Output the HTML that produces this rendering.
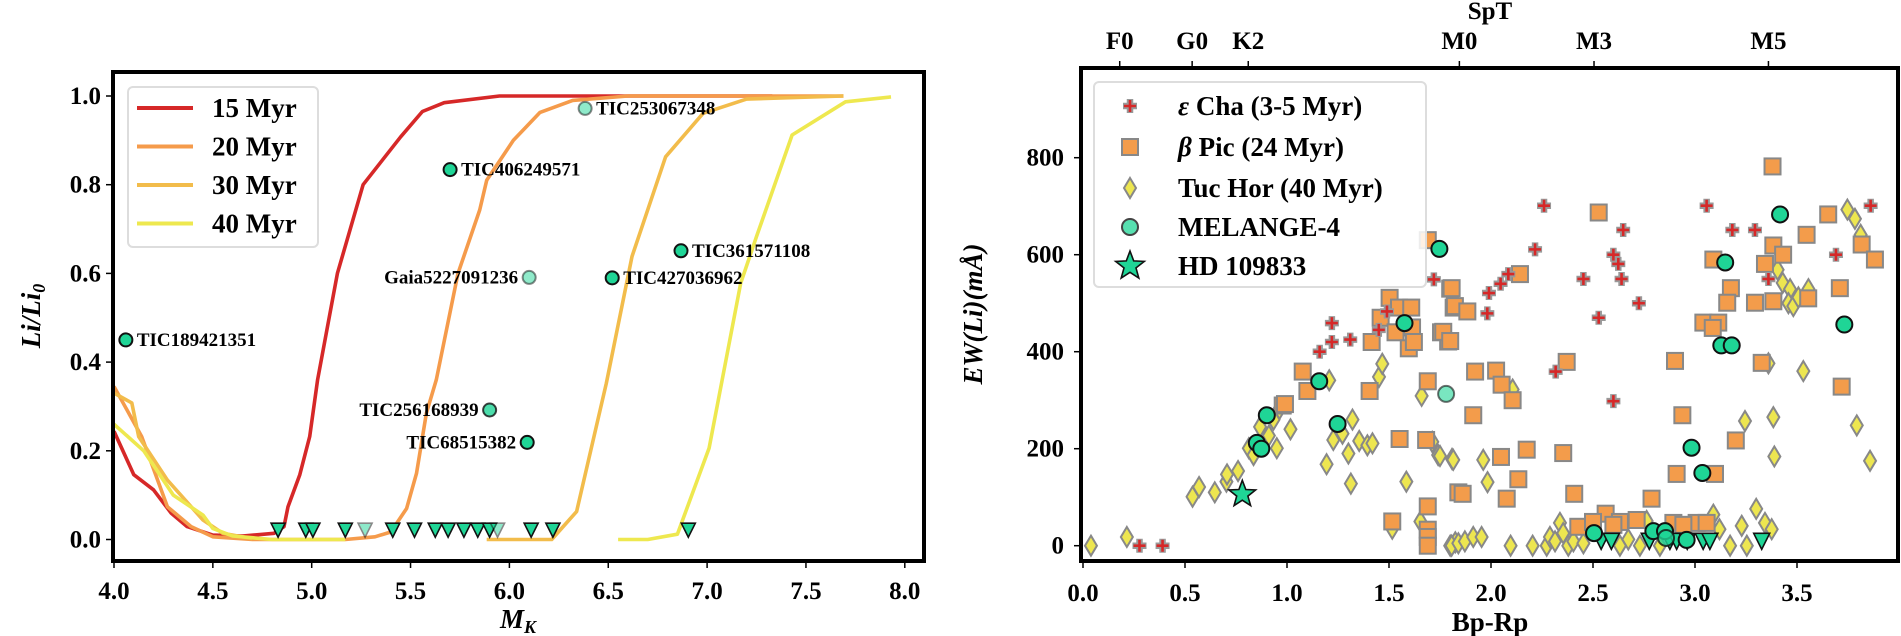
<!DOCTYPE html>
<html><head><meta charset="utf-8">
<style>
html,body{margin:0;padding:0;background:#fff;}
svg{display:block;font-family:"Liberation Serif",serif;font-weight:bold;}
</style></head>
<body>
<svg id="fig" width="1901" height="636" viewBox="0 0 1901 636" xmlns="http://www.w3.org/2000/svg"></svg>
<script>
// ---------- Left panel data ----------
const curve15x=[4.0,4.1,4.2,4.29,4.37,4.5,4.65,4.81,4.86,4.88,4.94,4.99,5.03,5.13,5.26,5.45,5.56,5.67,5.95,7.33];
const curve15y=[0.244,0.146,0.112,0.059,0.029,0.01,0.008,0.014,0.029,0.074,0.146,0.232,0.36,0.6,0.8,0.908,0.965,0.985,1.0,1.0];
const curve20x=[4.0,4.14,4.27,4.39,4.5,4.7,5.17,5.32,5.4,5.48,5.53,5.58,5.63,5.74,5.85,5.885,6.02,6.155,6.32,6.6,7.69];
const curve20y=[0.345,0.232,0.074,0.029,0.006,0.0,0.0,0.006,0.017,0.07,0.149,0.285,0.36,0.6,0.743,0.81,0.90,0.963,0.99,1.0,1.0];
const curve30x=[4.0,4.09,4.125,4.27,4.45,4.55,4.7,null,5.885,6.214,6.34,6.49,6.62,6.79,6.98,7.2,7.69];
const curve30y=[0.33,0.308,0.232,0.134,0.044,0.014,0.002,null,0.0,0.0,0.063,0.352,0.638,0.863,0.961,0.993,1.0];
const curve40x=[4.0,4.15,4.3,4.45,4.5,4.6,4.8,5.17,null,6.55,6.70,6.85,7.01,7.17,7.25,7.43,7.7,7.93];
const curve40y=[0.26,0.2,0.1,0.055,0.025,0.008,0.0,0.0,null,0.0,0.0,0.012,0.206,0.578,0.683,0.912,0.987,0.998];
const curveNames=["15 Myr","20 Myr","30 Myr","40 Myr"];
const starNames=["TIC253067348","TIC406249571","Gaia5227091236","TIC361571108","TIC427036962","TIC256168939","TIC68515382","TIC189421351"];
const starMK=[6.383,5.70,6.10,6.868,6.52,5.90,6.09,4.06];
const starLi=[0.972,0.834,0.591,0.651,0.59,0.292,0.219,0.45];
const starAlpha=[0.5,1,0.5,1,1,0.8,1,1];
const starLabelSide=["r","r","l","r","r","l","l","r"];
const limMK=[4.83,4.97,5.006,5.17,5.27,5.41,5.52,5.625,5.69,5.77,5.84,5.90,5.94,6.11,6.22,6.905];
const limAlpha=[1,1,1,1,0.5,1,1,1,1,1,1,1,0.5,1,1,1];
const leftXTicks=[4.0,4.5,5.0,5.5,6.0,6.5,7.0,7.5,8.0];
const leftYTicks=[0.0,0.2,0.4,0.6,0.8,1.0];

// ---------- Right panel data ----------
const chaX=[0.277,0.39,1.16,1.22,1.22,1.31,1.45,1.49,1.72,1.982,1.99,2.047,2.085,2.216,2.26,2.317,2.453,2.528,2.6,2.624,2.64,2.648,2.6,2.725,3.057,3.183,3.294,3.36,3.691,3.861];
const chaY=[0,0,400,459,420,425,445,483,549,479,521,540,560,611,701,359,550,470,600,581,550,651,298,500,701,651,651,550,600,701];
const picX=[1.69,1.503,1.549,1.609,1.459,1.532,1.613,1.597,1.622,1.415,1.80,1.817,1.755,1.79,1.077,1.10,0.979,0.99,1.405,1.69,1.552,1.682,1.84,1.516,1.69,1.69,1.69,1.69,
 3.38,2.528,3.653,3.547,3.384,3.432,3.817,3.882,3.09,3.343,2.142,1.807,1.823,1.884,3.176,3.158,3.294,3.384,3.555,3.71,1.766,1.8,3.041,3.114,3.087,2.902,2.371,1.922,2.025,2.052,2.106,3.327,3.719,1.913,2.938,3.2,2.175,2.049,2.354,2.134,2.910,3.098,1.861,2.077,2.408,2.787,2.562,2.428,2.5,2.632,2.714,2.894,3.008,2.943,3.057,2.6];
const picY=[630,511,491,491,470,440,450,407,420,420,530,491,440,421,359,319,289,292,319,339,220,218,110,50,81,33,18,0,
 782,687,683,641,619,600,621,590,590,581,560,531,494,483,531,501,501,504,510,531,441,422,460,460,449,381,379,359,361,332,300,377,328,269,269,217,198,183,191,137,148,148,107,97,107,97,66,39,49,49,53,47,47,43,47,43];
const tucX=[0.039,0.215,0.537,0.569,0.646,0.703,0.706,0.76,0.813,0.836,0.868,0.911,0.934,0.95,0.963,1.017,1.207,1.194,1.227,1.272,1.321,1.301,1.313,1.354,1.394,1.419,1.451,1.467,1.585,1.66,1.712,1.741,1.809,1.516,1.654,1.80,1.825,
 1.75,1.815,1.962,1.983,2.106,1.807,1.84,1.872,1.913,1.954,2.096,2.204,2.273,2.289,2.314,2.338,2.354,2.379,2.404,2.453,2.673,2.632,2.730,2.763,2.828,3.09,3.12,3.172,3.229,3.254,3.3,3.343,3.376,3.245,3.384,3.389,3.36,3.531,3.793,3.858,3.405,3.43,3.466,3.458,3.482,3.507,3.556,3.747,3.784,3.812];
const tucY=[0,18,101,121,110,132,147,154,201,187,245,227,260,201,282,240,341,168,218,231,260,190,128,216,207,211,348,375,132,309,214,187,179,35,50,0,7,
 185,177,177,131,322,0,5,9,18,18,0,0,0,18,9,47,26,0,9,5,13,0,0,51,0,64,34,0,41,0,76,47,34,257,265,184,376,360,248,175,569,542,529,500,494,512,529,693,674,641];
const melX=[1.747,1.576,1.158,1.248,0.901,0.852,0.874,1.78,3.417,3.148,3.129,3.18,3.732,2.983,3.036,2.505,2.796,2.853,2.858,2.959];
const melY=[612,459,339,251,269,212,200,313,683,584,413,413,456,202,150,26,30,30,16,12];
const melAlpha=[1,1,1,1,1,1,1,0.6,1,1,1,1,1,1,1,1,1,1,0.8,1];
const melLimX=[2.54,2.59,2.776,2.877,2.91,2.962,3.04,3.073,3.327];
const melLimY=[9,9,9,9,9,9,9,9,9];
const hdX=[0.781];
const hdY=[106];
const rightXTicks=[0.0,0.5,1.0,1.5,2.0,2.5,3.0,3.5];
const rightYTicks=[0,200,400,600,800];
const sptLabels=["F0","G0","K2","M0","M3","M5"];
const sptPos=[0.18,0.535,0.81,1.845,2.505,3.36];

// ---------- helpers ----------
const NS="http://www.w3.org/2000/svg";
const svg=document.getElementById('fig');
function mk(tag,attrs,parent){const e=document.createElementNS(NS,tag);for(const k in attrs)e.setAttribute(k,attrs[k]);(parent||svg).appendChild(e);return e;}
function txt(s,attrs,parent){const e=mk('text',attrs,parent);e.textContent=s;return e;}

const L={x0:113,x1:924,y0:72,y1:561};
const X1=v=>114+(v-4)*197.7;
const Y1=v=>539.5-v*443.5;
const R={x0:1081,x1:1898,y0:68,y1:561};
const X2=v=>1083+v*204;
const Y2=v=>545.7-v*0.485;

const TEAL="#1fd596";
const curveColors=["#d62828","#f59b4b","#f2bc4b","#eee84f"];

// ===== LEFT PANEL =====
const gL=mk('g',{});


const clipL=mk('clipPath',{id:'clipL'});
mk('rect',{x:L.x0,y:L.y0,width:L.x1-L.x0,height:L.y1-L.y0},clipL);

const cx=[curve15x,curve20x,curve30x,curve40x], cy=[curve15y,curve20y,curve30y,curve40y];
for(let c=0;c<4;c++){
  let d="",pen=false;
  for(let i=0;i<cx[c].length;i++){
    if(cx[c][i]===null){pen=false;continue;}
    d+=(pen?"L":"M")+X1(cx[c][i]).toFixed(1)+","+Y1(cy[c][i]).toFixed(1);pen=true;
  }
  const p=mk('path',{d:d,fill:'none',stroke:curveColors[c],'stroke-width':3.6,'stroke-linejoin':'round','clip-path':'url(#clipL)'},gL);
  
  
}
for(let i=0;i<limMK.length;i++){
  const x=X1(limMK[i]),y=Y1(0.021);
  const t=mk('path',{d:`M${x-7},${y-7}L${x+7},${y-7}L${x},${y+7}Z`,fill:TEAL,stroke:'#111','stroke-width':1.6,opacity:limAlpha[i]},gL);
  
  
}
for(let i=0;i<starNames.length;i++){
  const x=X1(starMK[i]),y=Y1(starLi[i]);
  const c=mk('circle',{cx:x,cy:y,r:6.5,fill:TEAL,stroke:'#111','stroke-width':2,'fill-opacity':starAlpha[i],'stroke-opacity':starAlpha[i]},gL);
  
  
  const right=starLabelSide[i]==='r';
  const t=txt(starNames[i],{x:right?x+11:x-11,y:y+6,'font-size':19,'text-anchor':right?'start':'end',fill:'#000'},gL);
  
  
}
const fL=mk('rect',{x:L.x0,y:L.y0,width:L.x1-L.x0,height:L.y1-L.y0,fill:'none',stroke:'#000','stroke-width':4},gL);


for(const v of leftXTicks){
  const x=X1(v);
  mk('line',{x1:x,x2:x,y1:L.y1,y2:L.y1+7,stroke:'#000','stroke-width':1.5},gL);
  const t=txt(v.toFixed(1),{x:x,y:599,'font-size':25,'text-anchor':'middle'},gL);
  
  
}
for(const v of leftYTicks){
  const y=Y1(v);
  mk('line',{x1:L.x0-7,x2:L.x0,y1:y,y2:y,stroke:'#000','stroke-width':1.5},gL);
  const t=txt(v.toFixed(1),{x:101,y:y+8,'font-size':25,'text-anchor':'end'},gL);
  
  
}
const xl=txt('',{x:518,y:628,'font-size':27,'text-anchor':'middle','font-style':'italic'},gL);


xl.innerHTML='M<tspan font-size="18" dy="5">K</tspan>';
const yl=txt('',{x:0,y:0,'font-size':27,'text-anchor':'middle','font-style':'italic',transform:'translate(40,316) rotate(-90)'},gL);


yl.innerHTML='Li/Li<tspan font-size="18" dy="5">0</tspan>';
const lg=mk('g',{},gL);


mk('rect',{x:128,y:87,width:190,height:160,rx:5,fill:'#fff',stroke:'#ddd','stroke-width':2},lg);
for(let c=0;c<4;c++){
  const y=108+c*38.5;
  mk('line',{x1:137,x2:193,y1:y,y2:y,stroke:curveColors[c],'stroke-width':4},lg);
  const t=txt(curveNames[c],{x:212,y:y+9,'font-size':27},lg);
  
  
}

// ===== RIGHT PANEL =====
const gR=mk('g',{});


function plus(x,y,p){
  mk('path',{d:`M${x-7},${y}H${x+7}M${x},${y-7}V${y+7}`,stroke:'#999','stroke-width':6.5},p);
  return mk('path',{d:`M${x-6},${y}H${x+6}M${x},${y-6}V${y+6}`,stroke:'#d62828','stroke-width':2.6},p);
}
function square(x,y,p){return mk('rect',{x:x-8,y:y-8,width:16,height:16,fill:'#f39c4b',stroke:'#888','stroke-width':2},p);}
function diamond(x,y,p){return mk('path',{d:`M${x},${y-10}L${x+6},${y}L${x},${y+10}L${x-6},${y}Z`,fill:'#ede650',stroke:'#888','stroke-width':2},p);}
function star(x,y,r,p){
  let d="";for(let k=0;k<10;k++){const rr=k%2?r*0.42:r;const a=-Math.PI/2+k*Math.PI/5;d+=(k?"L":"M")+(x+rr*Math.cos(a)).toFixed(1)+","+(y+rr*Math.sin(a)).toFixed(1);}
  return mk('path',{d:d+"Z",fill:TEAL,stroke:'#111','stroke-width':1.6},p);
}
for(let i=0;i<tucX.length;i++){const e=diamond(X2(tucX[i]),Y2(tucY[i]),gR);}
for(let i=0;i<picX.length;i++){const e=square(X2(picX[i]),Y2(picY[i]),gR);}
for(let i=0;i<chaX.length;i++){const e=plus(X2(chaX[i]),Y2(chaY[i]),gR);}
for(let i=0;i<melLimX.length;i++){
  const x=X2(melLimX[i]),y=Y2(melLimY[i]);
  const t=mk('path',{d:`M${x-8},${y-8}L${x+8},${y-8}L${x},${y+8}Z`,fill:TEAL,stroke:'#111','stroke-width':1.6},gR);
  
  
}
for(let i=0;i<melX.length;i++){
  const c=mk('circle',{cx:X2(melX[i]),cy:Y2(melY[i]),r:8,fill:TEAL,stroke:'#111','stroke-width':2,'fill-opacity':melAlpha[i],'stroke-opacity':melAlpha[i]},gR);
  
  
}
for(let i=0;i<hdX.length;i++){const s=star(X2(hdX[i]),Y2(hdY[i]),14,gR);}

const fR=mk('rect',{x:R.x0,y:R.y0,width:R.x1-R.x0,height:R.y1-R.y0,fill:'none',stroke:'#000','stroke-width':4},gR);


for(const v of rightXTicks){
  const x=X2(v);
  mk('line',{x1:x,x2:x,y1:R.y1,y2:R.y1+7,stroke:'#000','stroke-width':1.5},gR);
  const t=txt(v.toFixed(1),{x:x,y:601,'font-size':25,'text-anchor':'middle'},gR);
  
  
}
for(const v of rightYTicks){
  const y=Y2(v);
  mk('line',{x1:R.x0-7,x2:R.x0,y1:y,y2:y,stroke:'#000','stroke-width':1.5},gR);
  const t=txt(String(v),{x:1064,y:y+8,'font-size':25,'text-anchor':'end'},gR);
  
  
}
for(let i=0;i<sptLabels.length;i++){
  const x=X2(sptPos[i]);
  mk('line',{x1:x,x2:x,y1:R.y0-7,y2:R.y0,stroke:'#000','stroke-width':1.5},gR);
  const t=txt(sptLabels[i],{x:x,y:49,'font-size':25,'text-anchor':'middle'},gR);
  
  
}
const spt=txt('SpT',{x:1490,y:19,'font-size':25,'text-anchor':'middle'},gR);


const bx=txt('Bp-Rp',{x:1490,y:631,'font-size':27,'text-anchor':'middle'},gR);


const ew=txt('EW(Li)(mÅ)',{x:0,y:0,'font-size':27,'text-anchor':'middle','font-style':'italic',transform:'translate(982,314) rotate(-90)'},gR);



const lr=mk('g',{},gR);


mk('rect',{x:1094,y:82,width:332,height:205,rx:5,fill:'#fff','fill-opacity':0.85,stroke:'#ddd','stroke-width':2},lr);
const legY=[106,147,188,227,266];
plus(1130,legY[0],lr);square(1130,legY[1],lr);diamond(1130,legY[2],lr);
mk('circle',{cx:1130,cy:legY[3],r:8,fill:TEAL,'fill-opacity':0.75,stroke:'#444','stroke-width':2},lr);
star(1130,legY[4],15,lr);
const legTxt=['<tspan font-style="italic">ε</tspan> Cha (3-5 Myr)','<tspan font-style="italic">β</tspan> Pic (24 Myr)','Tuc Hor (40 Myr)','MELANGE-4','HD 109833'];
for(let i=0;i<5;i++){
  const t=txt('',{x:1178,y:legY[i]+9,'font-size':27},lr);
  t.innerHTML=legTxt[i];
  
  
}
</script>
</body></html>
